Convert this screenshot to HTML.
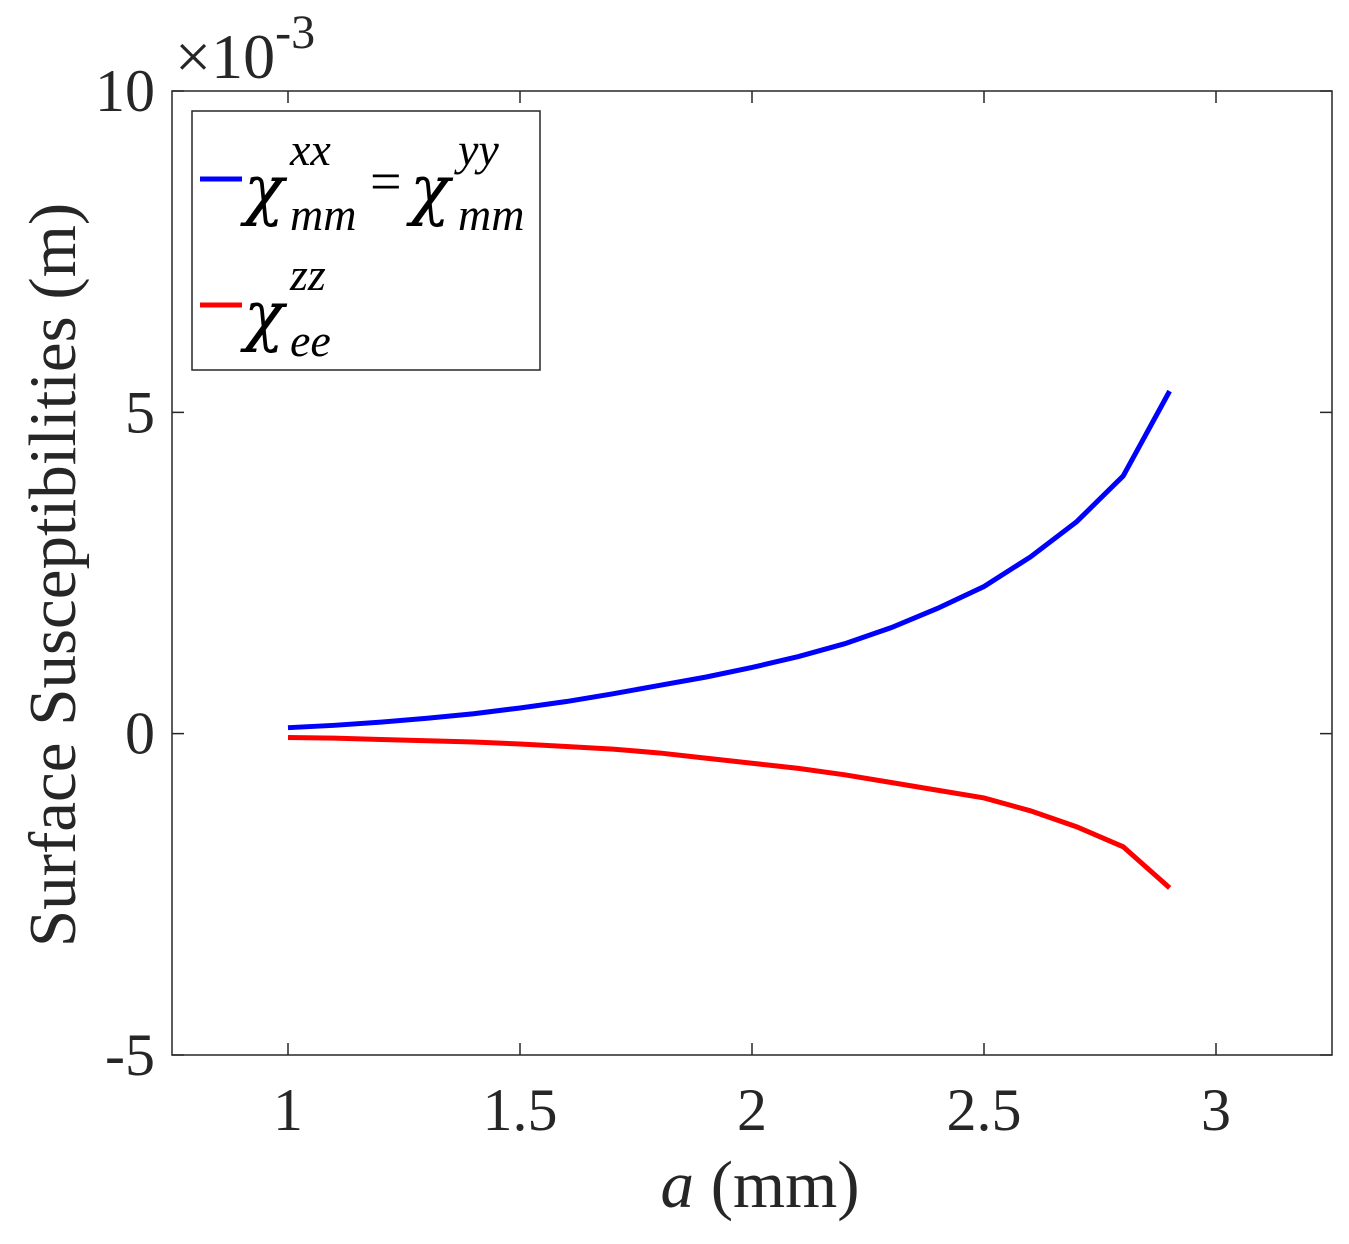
<!DOCTYPE html>
<html><head><meta charset="utf-8"><style>
body{margin:0;background:#fff}
svg{display:block;font-family:"Liberation Serif",serif}
</style></head><body>
<svg id="chart" width="1349" height="1244" viewBox="0 0 1349 1244" xmlns="http://www.w3.org/2000/svg">
<rect width="1349" height="1244" fill="#fff"/>
<g id="series"></g>
<rect x="172" y="91" width="1160" height="964" fill="none" stroke="#262626" stroke-width="1.5"/>
<g id="ticks" fill="#262626" font-size="60"></g>
<text x="175" y="78" font-size="64" fill="#262626">×10<tspan font-size="48" dy="-30">-3</tspan></text>
<text x="760" y="1207" font-size="67" text-anchor="middle" fill="#262626"><tspan font-style="italic">a</tspan> (mm)</text>
<text transform="translate(75,575) rotate(-90)" font-size="67" text-anchor="middle" fill="#262626">Surface Susceptibilities (m)</text>
<g fill="#000" font-style="italic">
<rect x="192" y="111" width="348" height="259" fill="#fff" stroke="#262626" stroke-width="1.5"/>
<line x1="200" y1="179" x2="242" y2="179" stroke="#0000ff" stroke-width="5"/>
<g>
<text x="244" y="212" font-size="66" font-family="DejaVu Serif, serif">χ</text>
<text x="290" y="165" font-size="46">xx</text>
<text x="290" y="230" font-size="46">mm</text>
<text x="370" y="200" font-size="56" font-style="normal">=</text>
<text x="410" y="212" font-size="66" font-family="DejaVu Serif, serif">χ</text>
<text x="458" y="165" font-size="46">yy</text>
<text x="458" y="230" font-size="46">mm</text>
</g>
<line x1="200" y1="305" x2="242" y2="305" stroke="#ff0000" stroke-width="5"/>
<g>
<text x="244" y="338" font-size="66" font-family="DejaVu Serif, serif">χ</text>
<text x="290" y="290" font-size="46">zz</text>
<text x="290" y="356" font-size="46">ee</text>
</g>
</g>
</svg>
<script>
const xValues=[1,1.1,1.2,1.3,1.4,1.5,1.6,1.7,1.8,1.9,2.0,2.1,2.2,2.3,2.4,2.5,2.6,2.7,2.8,2.9];
const chiMM=[0.093,0.13,0.18,0.24,0.31,0.4,0.5,0.62,0.75,0.88,1.03,1.2,1.4,1.65,1.95,2.29,2.75,3.3,4.01,5.33];
const chiEE=[-0.06,-0.07,-0.09,-0.11,-0.13,-0.16,-0.2,-0.24,-0.3,-0.38,-0.46,-0.54,-0.64,-0.76,-0.88,-1.0,-1.2,-1.45,-1.76,-2.4];
const xTicks=[1,1.5,2,2.5,3];
const xTickLabels=["1","1.5","2","2.5","3"];
const yTicks=[-5,0,5,10];
const yTickLabels=["-5","0","5","10"];
const X=v=>172+(v-0.75)/2.5*1160;
const Y=v=>1055-(v+5)/15*964;
const NS="http://www.w3.org/2000/svg";
const ticks=document.getElementById('ticks');
xTicks.forEach((t,i)=>{
 const l=document.createElementNS(NS,'path');
 l.setAttribute('d',`M${X(t)},1055v-12M${X(t)},91v12`);l.setAttribute('stroke','#262626');l.setAttribute('stroke-width','1.5');
 
 
 ticks.appendChild(l);
 const tx=document.createElementNS(NS,'text');
 tx.setAttribute('x',X(t));tx.setAttribute('y',1130);tx.setAttribute('text-anchor','middle');tx.textContent=xTickLabels[i];
 
 
 ticks.appendChild(tx);
});
yTicks.forEach((t,i)=>{
 const l=document.createElementNS(NS,'path');
 l.setAttribute('d',`M172,${Y(t)}h12M1332,${Y(t)}h-12`);l.setAttribute('stroke','#262626');l.setAttribute('stroke-width','1.5');
 
 
 ticks.appendChild(l);
 const tx=document.createElementNS(NS,'text');
 tx.setAttribute('x',155);tx.setAttribute('y',Y(t)+20);tx.setAttribute('text-anchor','end');tx.textContent=yTickLabels[i];
 
 
 ticks.appendChild(tx);
});
const series=document.getElementById('series');
[[chiMM,'#0000ff','line-chi-mm'],[chiEE,'#ff0000','line-chi-ee']].forEach(([d,c,n])=>{
 const p=document.createElementNS(NS,'polyline');
 p.setAttribute('points',d.map((v,i)=>X(xValues[i])+','+Y(v)).join(' '));
 p.setAttribute('fill','none');p.setAttribute('stroke',c);p.setAttribute('stroke-width','5');
 
 
 series.appendChild(p);
});
</script>
</body></html>
